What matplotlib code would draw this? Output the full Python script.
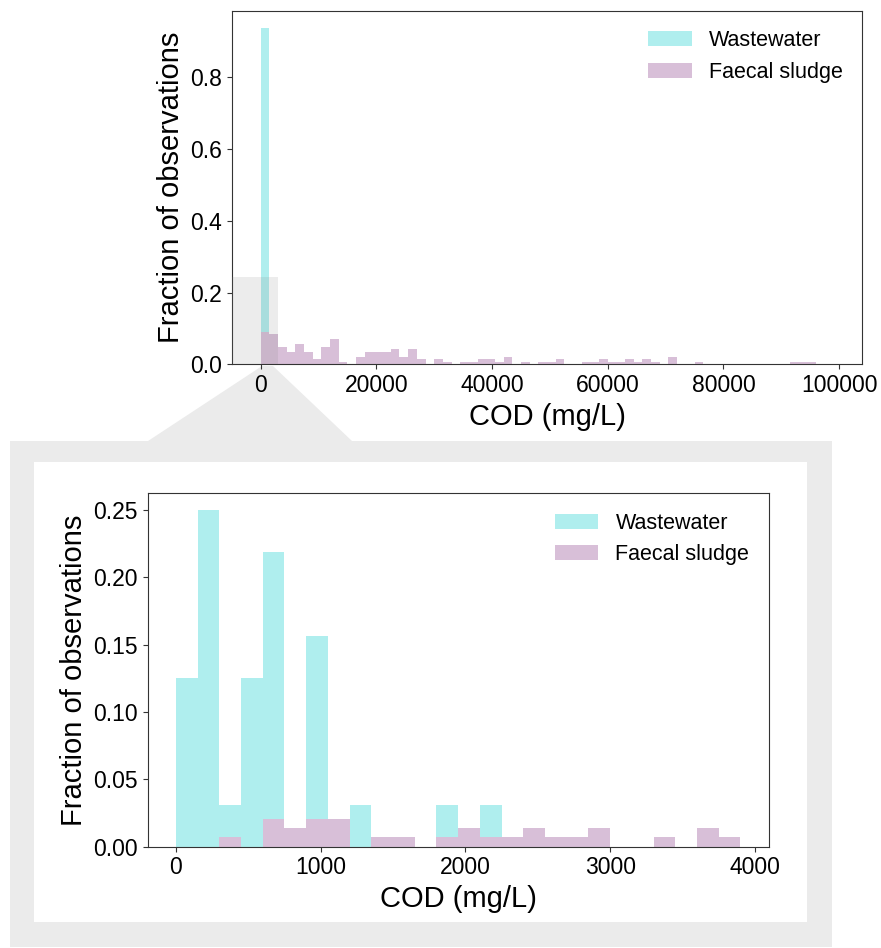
import matplotlib; matplotlib.use("Agg")
import matplotlib.pyplot as plt
import numpy as np
from matplotlib.patches import Rectangle, Polygon

plt.rcParams["font.family"] = ["Liberation Sans", "DejaVu Sans"]

WW_COL = "paleturquoise"; FS_COL = "thistle"; FRAME = "#ebebeb"
N_WW = 32; N_FS = 144

# full range, 1500 mg/L bins (0 .. 99000)
EDGES_ALL = np.arange(0, 100000, 1500)
WW_ALL = [30, 2] + [0]*64
FS_ALL = [13, 12, 7, 5, 8, 5, 2, 7, 10, 1,
          0, 3, 5, 5, 5, 6, 3, 6, 2, 0,
          2, 1, 0, 1, 1, 2, 2, 1, 3, 0,
          1, 0, 1, 1, 2, 0, 0, 1, 1, 2,
          1, 1, 2, 1, 2, 1, 0, 3, 0, 0,
          1, 0, 0, 0, 0, 0, 0, 0, 0, 0,
          0, 1, 1, 1, 0, 0]

# zoom below 3900 mg/L, 150 mg/L bins
EDGES_LOW = np.arange(0, 4000, 150)
WW_LOW = [4, 8, 1, 4, 7, 0, 5, 0, 1, 0, 0, 0, 1, 0, 1,
          0, 0, 0, 0, 0, 0, 0, 0, 0, 0, 0]
FS_LOW = [0, 0, 1, 0, 3, 2, 3, 3, 0, 1, 1, 0, 1, 2, 1,
          1, 2, 1, 1, 2, 0, 0, 1, 0, 2, 1]
ZOOM_X = 3000; ZOOM_Y = 0.244

W, H = 881, 948
fig = plt.figure(figsize=(W/100, H/100), dpi=100)

def px(x0, y0, x1, y1):
    return [x0/W, 1-y1/H, (x1-x0)/W, (y1-y0)/H]

def hist_panel(ax, edges, ww, fs):
    ax.hist(edges[:-1], bins=edges, weights=np.array(ww)/N_WW, color=WW_COL, label="Wastewater")
    ax.hist(edges[:-1], bins=edges, weights=np.array(fs)/N_FS, color=FS_COL, label="Faecal sludge")
    ax.set_xlabel("COD (mg/L)", fontsize=21)
    ax.set_ylabel("Fraction of observations", fontsize=21)
    ax.tick_params(labelsize=16.5, color="#333333")
    for s in ax.spines.values(): s.set_color("#333333")
    ax.legend(frameon=False, fontsize=15.5, loc="upper right")

# zoom frame + connector behind everything
fig.add_artist(Rectangle((10/W, 1-947/H), 822/W, 506/H, color=FRAME, lw=0, zorder=-3))
fig.add_artist(Rectangle((34/W, 1-922/H), 773/W, 460/H, color="white", lw=0, zorder=-2))
fig.add_artist(Polygon([(262/W, 1-366/H), (273/W, 1-366/H), (352/W, 1-441/H), (148/W, 1-441/H)],
                       closed=True, color=FRAME, lw=0, zorder=-3))

ax1 = fig.add_axes(px(232, 11, 862, 364.3))
hist_panel(ax1, EDGES_ALL, WW_ALL, FS_ALL)
ax1.set_yticks([0, 0.2, 0.4, 0.6, 0.8])
ax1.set_xticks([0, 20000, 40000, 60000, 80000, 100000])
x0, x1 = ax1.get_xlim(); ax1.set_xlim(x0, x1)
ax1.add_patch(Rectangle((x0, 0), ZOOM_X - x0, ZOOM_Y, color="gray", alpha=0.15, lw=0, zorder=3))

ax2 = fig.add_axes(px(147.7, 493.3, 768.7, 846.7))
hist_panel(ax2, EDGES_LOW, WW_LOW, FS_LOW)
ax2.set_xticks([0, 1000, 2000, 3000, 4000])

fig.savefig("out.png", dpi=100, facecolor="white")
